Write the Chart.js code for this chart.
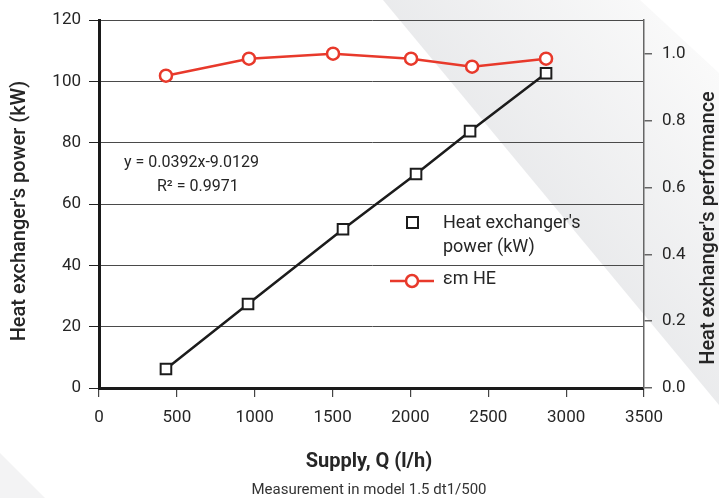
<!DOCTYPE html>
<html>
<head>
<meta charset="utf-8">
<script src="https://cdn.jsdelivr.net/npm/chart.js@4.4.0/dist/chart.umd.min.js"></script>
<style>
    html, body {margin: 0; padding: 0; background: #fff;}
    #wrap {width: 719px; height: 498px; position: relative;}
</style>
</head>
<body>
<div id="wrap"><canvas id="chart" width="719" height="498"></canvas></div>
<script>
// values
const powerX = [430, 957, 1567, 2036, 2383, 2871];
const powerY = [6.2, 27.4, 51.8, 69.8, 83.8, 102.7];
const perfX = [430, 963, 1503, 2004, 2396, 2871];
const perfY = [0.934, 0.985, 1.0, 0.985, 0.961, 0.985];

const powerLabel = ["Heat exchanger's", "power (kW)"];
const perfLabel = "\u03b5m HE";
const equation = ["y = 0.0392x-9.0129", "R\u00b2 = 0.9971"];

const FONT = "Roboto, 'Noto Sans', sans-serif";
const TXT = '#262626';

const decor = {
    id: 'decor',
    beforeDraw(chart) {
        let ctx = chart.ctx;
        ctx.save();
        ctx.fillStyle = '#fff';
        ctx.fillRect(0, 0, chart.width, chart.height);

        // diagonal grey band behind the chart
        let g = ctx.createLinearGradient(480, 180, 680, 20);
        g.addColorStop(0, '#e7e8ea');
        g.addColorStop(1, '#fafafa');
        ctx.fillStyle = g;
        ctx.beginPath();
        ctx.moveTo(383, 0);
        ctx.lineTo(640, 0);
        ctx.lineTo(719, 73);
        ctx.lineTo(719, 405);
        ctx.closePath();
        ctx.fill();

        ctx.fillStyle = '#f3f3f4';
        ctx.beginPath();
        ctx.moveTo(0, 453);
        ctx.lineTo(45, 498);
        ctx.lineTo(0, 498);
        ctx.closePath();
        ctx.fill();
        ctx.restore();
    },
    afterDraw(chart) {
        let ctx = chart.ctx;
        ctx.save();
        ctx.fillStyle = TXT;
        ctx.textBaseline = 'middle';

        // axis titles
        ctx.font = '500 20px ' + FONT;
        ctx.textAlign = 'center';
        ctx.save();
        ctx.translate(20, 211);
        ctx.rotate(-Math.PI / 2);
        ctx.fillText("Heat exchanger's power (kW)", 0, 0);
        ctx.restore();
        ctx.save();
        ctx.translate(709, 228);
        ctx.rotate(-Math.PI / 2);
        ctx.fillText("Heat exchanger's performance", 0, 0);
        ctx.restore();

        ctx.font = 'bold 20px ' + FONT;
        ctx.fillText('Supply, Q (l/h)', 369, 462);
        ctx.font = '15px ' + FONT;
        ctx.fillStyle = '#333';
        ctx.fillText('Measurement in model 1.5 dt1/500', 369, 490);

        // trend equation
        ctx.fillStyle = TXT;
        ctx.font = '16px ' + FONT;
        ctx.textAlign = 'left';
        ctx.fillText(equation[0], 124, 163);
        ctx.fillText(equation[1], 157, 187);

        // legend
        ctx.font = '18px ' + FONT;
        ctx.fillText(powerLabel[0], 443, 223);
        ctx.fillText(powerLabel[1], 443, 247);
        ctx.fillText(perfLabel, 443, 279);

        ctx.lineWidth = 2;
        ctx.strokeStyle = '#1c1c1c';
        ctx.fillStyle = '#fff';
        ctx.fillRect(407, 217, 11, 11);
        ctx.strokeRect(407, 217, 11, 11);

        ctx.strokeStyle = '#e8392b';
        ctx.lineWidth = 2.5;
        ctx.beginPath();
        ctx.moveTo(390, 281);
        ctx.lineTo(434, 281);
        ctx.stroke();
        ctx.beginPath();
        ctx.arc(412, 281, 6, 0, Math.PI * 2);
        ctx.fill();
        ctx.stroke();
        ctx.restore();
    }
};

let ctx = document.getElementById('chart').getContext('2d');
let chart = new Chart(ctx, {
    type: 'line',
    data: {
        datasets: [
            {
                label: powerLabel.join(' '),
                data: powerX.map((x, i) => ({x: x, y: powerY[i]})),
                yAxisID: 'y',
                borderColor: '#1c1c1c',
                borderWidth: 2.5,
                pointStyle: 'rect',
                pointRadius: 7.5,
                pointBorderWidth: 2,
                pointBorderColor: '#1c1c1c',
                pointBackgroundColor: '#fff',
                tension: 0
            },
            {
                label: perfLabel,
                data: perfX.map((x, i) => ({x: x, y: perfY[i]})),
                yAxisID: 'y2',
                borderColor: '#e8392b',
                borderWidth: 2.5,
                pointStyle: 'circle',
                pointRadius: 6,
                pointBorderWidth: 2.5,
                pointBorderColor: '#e8392b',
                pointBackgroundColor: '#fff',
                tension: 0
            }
        ]
    },
    options: {
        responsive: false,
        animation: false,
        layout: {padding: {top: 20, left: 0, right: 0, bottom: 0}},
        plugins: {legend: {display: false}, tooltip: {enabled: false}},
        scales: {
            x: {
                type: 'linear',
                min: 0,
                max: 3500,
                afterFit: s => { s.height = 110; },
                border: {color: '#1a1a1a', width: 3},
                grid: {drawOnChartArea: false, tickLength: 9, tickColor: '#444', lineWidth: 1.2},
                ticks: {
                    stepSize: 500,
                    padding: 11,
                    color: TXT,
                    font: {family: FONT, size: 17},
                    callback: v => String(v)
                }
            },
            y: {
                position: 'left',
                min: 0,
                max: 120,
                afterFit: s => { s.width = 99; },
                border: {color: '#1a1a1a', width: 3},
                grid: {color: '#4a4a4a', lineWidth: 1, tickLength: 10, tickColor: '#222'},
                ticks: {stepSize: 20, padding: 8, color: TXT, font: {family: FONT, size: 17}}
            },
            y2: {
                position: 'right',
                min: 0,
                max: 1.1,
                afterFit: s => { s.width = 75; },
                afterBuildTicks: s => { s.ticks = s.ticks.filter(t => t.value <= 1.0001); },
                border: {color: '#666', width: 1.5},
                grid: {drawOnChartArea: false, tickLength: 8, tickColor: '#666', lineWidth: 1.5},
                ticks: {
                    stepSize: 0.2,
                    padding: 10,
                    color: TXT,
                    font: {family: FONT, size: 17},
                    callback: v => v.toFixed(1)
                }
            }
        }
    },
    plugins: [decor]
});
</script>
</body>
</html>
